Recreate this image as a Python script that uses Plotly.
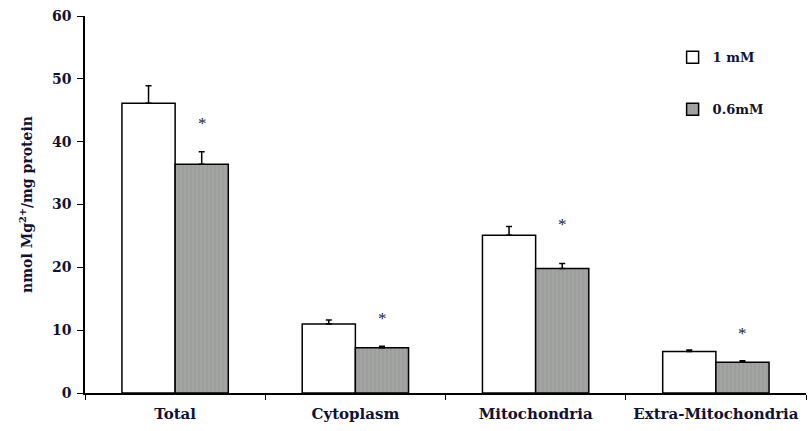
import plotly.graph_objects as go

categories = ["Total", "Cytoplasm", "Mitochondria", "Extra-Mitochondria"]
series_names = ["1 mM", "0.6mM"]
values_1mM = [46.1, 11.0, 25.1, 6.6]
err_1mM = [2.8, 0.6, 1.4, 0.25]
values_06mM = [36.4, 7.2, 19.8, 4.9]
err_06mM = [2.0, 0.25, 0.8, 0.25]
star_y = [42.9, 11.9, 26.8, 9.4]
y_ticks = [0, 10, 20, 30, 40, 50, 60]

font_family = "DejaVu Serif, serif"
text_color = "#111133"

fig = go.Figure()
fig.add_trace(go.Bar(
    x=categories, y=values_1mM, name=series_names[0], legendgroup="a",
    marker=dict(color="white", line=dict(color="black", width=1.5)),
    error_y=dict(type="data", symmetric=False, array=err_1mM,
                 arrayminus=[0] * len(err_1mM), color="black", thickness=1.5, width=3),
))
fig.add_trace(go.Bar(
    x=categories, y=values_06mM, name=series_names[1], legendgroup="b",
    marker=dict(color="#9c9c9c", line=dict(color="black", width=1.5),
                pattern=dict(shape="|", fgcolor="#8a948a", bgcolor="#a4a4a4", size=4, solidity=0.3)),
    error_y=dict(type="data", symmetric=False, array=err_06mM,
                 arrayminus=[0] * len(err_06mM), color="black", thickness=1.5, width=3),
))

for c, sy in zip(categories, star_y):
    fig.add_annotation(x=c, y=sy, text="*", showarrow=False, xshift=27,
                       font=dict(family="Liberation Serif, serif", size=17, color="#222244"))

fig.update_layout(
    width=811, height=431,
    margin=dict(l=85, r=5, t=16, b=38),
    paper_bgcolor="white", plot_bgcolor="white",
    barmode="group", bargap=0.41, bargroupgap=0,
    font=dict(family=font_family, color=text_color, size=13),
    showlegend=True,
    legend=dict(x=0.815, y=0.93, xanchor="left", yanchor="top",
                tracegroupgap=32, bgcolor="rgba(0,0,0,0)", itemwidth=30,
                font=dict(family=font_family, size=13, color=text_color, weight="bold")),
)
fig.update_xaxes(
    showline=True, linecolor="black", linewidth=1.5,
    ticks="outside", tickson="boundaries", ticklen=5, tickcolor="black", tickwidth=1,
    ticklabelstandoff=6,
    tickfont=dict(family=font_family, size=15, weight="bold", color=text_color),
    showgrid=False,
)
fig.update_yaxes(
    range=[0, 60], tickvals=y_ticks,
    showline=True, linecolor="black", linewidth=1.5,
    ticks="outside", ticklen=6, tickcolor="black", tickwidth=1,
    ticklabelstandoff=3,
    tickfont=dict(family=font_family, size=14, weight="bold", color=text_color),
    showgrid=False, zeroline=False,
    title=dict(text="nmol Mg<sup>2+</sup>/mg protein", standoff=16,
               font=dict(family=font_family, size=14, weight="bold", color=text_color)),
)

fig.write_html("out.html")
